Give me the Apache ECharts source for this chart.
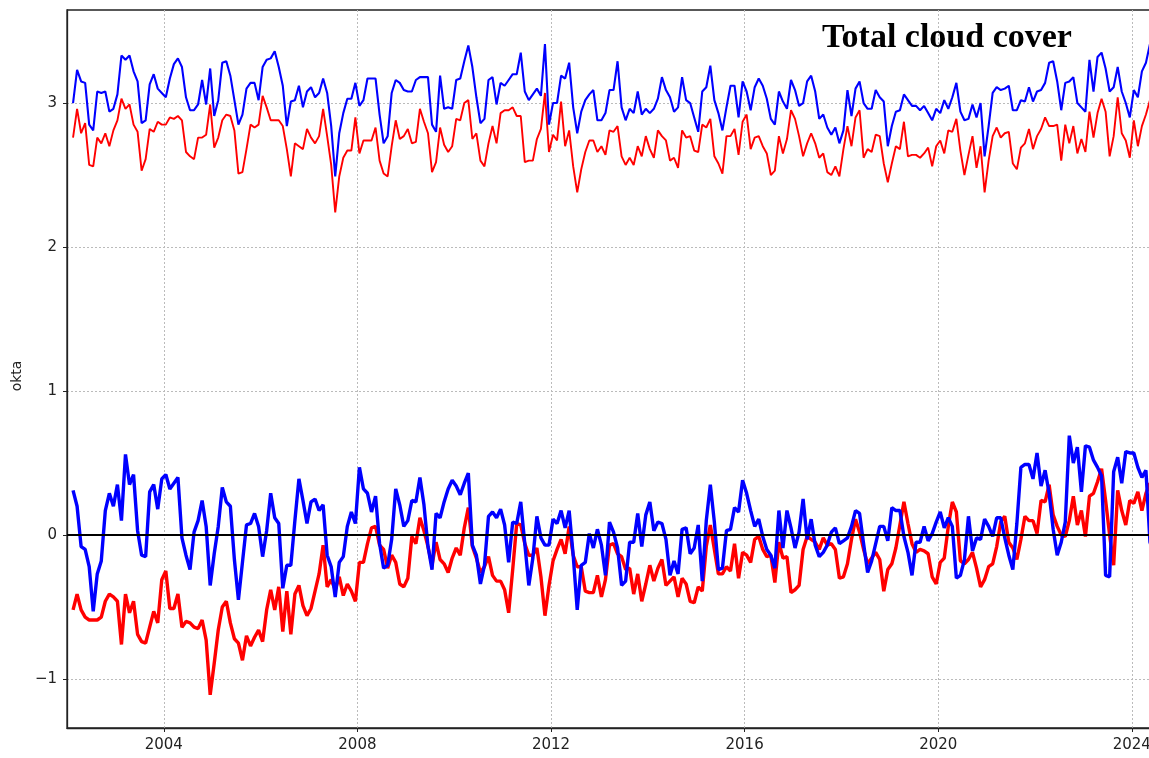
<!DOCTYPE html>
<html>
<head>
<meta charset="utf-8">
<title>Total cloud cover</title>
<script src="https://cdn.jsdelivr.net/npm/echarts@6.0.0/dist/echarts.min.js"></script>
<style>
  html, body { margin: 0; padding: 0; background: #fff; }
  #chart { width: 1149px; height: 758px; }
</style>
</head>
<body>
<div id="chart"></div>
<script>
// monthly series, first value = Feb 2002
const startYear = 2002;
const startMonth = 2;

const yearTicks = [2004, 2008, 2012, 2016, 2020, 2024];
const oktaTicks = [-1, 0, 1, 2, 3];

// total cloud cover, blue dataset (thin)
const blueTotal = [
  3.00, 3.23, 3.15, 3.14, 2.85, 2.81, 3.08, 3.07, 3.08, 2.94,
  2.96, 3.06, 3.33, 3.30, 3.33, 3.22, 3.15, 2.86, 2.88, 3.13,
  3.20, 3.10, 3.07, 3.04, 3.17, 3.27, 3.31, 3.25, 3.04, 2.95,
  2.95, 2.99, 3.16, 2.99, 3.24, 2.91, 3.02, 3.28, 3.29, 3.19,
  3.02, 2.85, 2.92, 3.10, 3.14, 3.14, 3.02, 3.25, 3.30, 3.31,
  3.36, 3.25, 3.12, 2.84, 3.01, 3.02, 3.12, 2.97, 3.08, 3.11,
  3.04, 3.07, 3.17, 3.07, 2.84, 2.49, 2.79, 2.93, 3.03, 3.03,
  3.14, 2.98, 3.02, 3.17, 3.17, 3.17, 2.92, 2.72, 2.77, 3.07,
  3.16, 3.14, 3.09, 3.08, 3.08, 3.16, 3.18, 3.18, 3.18, 2.85,
  2.80, 3.19, 2.96, 2.97, 2.96, 3.16, 3.17, 3.29, 3.40, 3.25,
  3.04, 2.86, 2.89, 3.16, 3.18, 2.99, 3.14, 3.12, 3.16, 3.20,
  3.20, 3.35, 3.08, 3.02, 3.06, 3.10, 3.05, 3.41, 2.85, 3.00,
  3.00, 3.19, 3.17, 3.28, 2.97, 2.79, 2.94, 3.02, 3.06, 3.09,
  2.88, 2.88, 2.93, 3.09, 3.09, 3.29, 2.97, 2.88, 2.96, 2.93,
  3.08, 2.92, 2.96, 2.93, 2.96, 3.03, 3.18, 3.09, 3.04, 2.94,
  2.97, 3.18, 3.02, 3.00, 2.90, 2.80, 3.08, 3.11, 3.26, 3.02,
  2.93, 2.81, 2.97, 3.12, 3.12, 2.90, 3.15, 3.08, 2.95, 3.11,
  3.17, 3.12, 3.03, 2.89, 2.85, 3.08, 3.01, 2.96, 3.16, 3.09,
  2.98, 3.00, 3.15, 3.19, 3.08, 2.89, 2.92, 2.83, 2.78, 2.83,
  2.72, 2.81, 3.09, 2.91, 3.10, 3.15, 3.00, 2.96, 2.96, 3.09,
  3.04, 3.01, 2.70, 2.84, 2.94, 2.95, 3.06, 3.02, 2.98, 2.98,
  2.95, 2.98, 2.93, 2.88, 2.96, 2.93, 3.02, 2.96, 3.04, 3.14,
  2.94, 2.88, 2.89, 2.99, 2.90, 3.00, 2.63, 2.84, 3.07, 3.11,
  3.09, 3.10, 3.12, 2.95, 2.95, 3.02, 3.01, 3.11, 3.01, 3.08,
  3.09, 3.14, 3.28, 3.29, 3.15, 2.95, 3.14, 3.15, 3.18, 3.00,
  2.97, 2.94, 3.30, 3.08, 3.32, 3.35, 3.24, 3.08, 3.11, 3.25,
  3.08, 3.00, 2.90, 3.09, 3.04, 3.22, 3.28, 3.41, 3.33, 3.20
];

// total cloud cover, red dataset (thin)
const redTotal = [
  2.76, 2.96, 2.79, 2.86, 2.57, 2.56, 2.76, 2.72, 2.79, 2.70,
  2.81, 2.88, 3.03, 2.96, 2.99, 2.85, 2.80, 2.53, 2.61, 2.82,
  2.80, 2.87, 2.85, 2.85, 2.90, 2.89, 2.91, 2.88, 2.66, 2.63,
  2.61, 2.76, 2.76, 2.78, 2.99, 2.69, 2.76, 2.88, 2.92, 2.91,
  2.81, 2.51, 2.52, 2.68, 2.85, 2.83, 2.85, 3.05, 2.97, 2.88,
  2.88, 2.88, 2.84, 2.68, 2.49, 2.72, 2.70, 2.68, 2.82, 2.76,
  2.72, 2.77, 2.96, 2.77, 2.57, 2.24, 2.49, 2.62, 2.67, 2.67,
  2.90, 2.65, 2.74, 2.74, 2.74, 2.83, 2.60, 2.51, 2.49, 2.70,
  2.88, 2.75, 2.77, 2.82, 2.72, 2.73, 2.96, 2.87, 2.79, 2.52,
  2.59, 2.83, 2.71, 2.66, 2.70, 2.89, 2.88, 3.00, 3.02, 2.75,
  2.79, 2.60, 2.56, 2.72, 2.84, 2.72, 2.93, 2.95, 2.95, 2.97,
  2.91, 2.91, 2.59, 2.60, 2.60, 2.75, 2.82, 3.07, 2.66, 2.78,
  2.74, 3.01, 2.70, 2.81, 2.56, 2.38, 2.54, 2.66, 2.74, 2.74,
  2.66, 2.70, 2.64, 2.81, 2.80, 2.84, 2.63, 2.57, 2.62, 2.57,
  2.70, 2.63, 2.77, 2.68, 2.62, 2.81, 2.77, 2.74, 2.60, 2.62,
  2.55, 2.81, 2.76, 2.77, 2.67, 2.66, 2.85, 2.83, 2.89, 2.63,
  2.58, 2.51, 2.77, 2.77, 2.82, 2.64, 2.87, 2.92, 2.68, 2.76,
  2.77, 2.70, 2.65, 2.50, 2.53, 2.77, 2.65, 2.75, 2.95, 2.89,
  2.77, 2.63, 2.72, 2.79, 2.72, 2.62, 2.65, 2.52, 2.50, 2.56,
  2.49, 2.68, 2.84, 2.70, 2.90, 2.95, 2.62, 2.68, 2.66, 2.78,
  2.77, 2.58, 2.45, 2.58, 2.70, 2.68, 2.87, 2.63, 2.64, 2.64,
  2.62, 2.65, 2.69, 2.56, 2.70, 2.74, 2.65, 2.81, 2.80, 2.89,
  2.67, 2.50, 2.64, 2.77, 2.55, 2.70, 2.38, 2.60, 2.77, 2.83,
  2.76, 2.79, 2.80, 2.58, 2.54, 2.69, 2.72, 2.82, 2.68, 2.77,
  2.82, 2.90, 2.84, 2.84, 2.85, 2.60, 2.85, 2.72, 2.84, 2.65,
  2.75, 2.66, 2.94, 2.76, 2.93, 3.03, 2.94, 2.63, 2.77, 3.04,
  2.79, 2.74, 2.62, 2.88, 2.70, 2.84, 2.92, 3.02, 2.90, 2.80
];

// anomalies, blue dataset (thick)
const blueAnom = [
  0.31, 0.20, -0.08, -0.10, -0.22, -0.53, -0.27, -0.18, 0.17, 0.29,
  0.20, 0.35, 0.10, 0.56, 0.35, 0.42, 0.03, -0.14, -0.15, 0.30,
  0.35, 0.18, 0.39, 0.42, 0.32, 0.36, 0.40, -0.02, -0.14, -0.24,
  0.02, 0.10, 0.24, 0.06, -0.35, -0.13, 0.06, 0.33, 0.23, 0.20,
  -0.17, -0.45, -0.19, 0.07, 0.08, 0.15, 0.06, -0.15, 0.03, 0.29,
  0.12, 0.08, -0.37, -0.21, -0.21, 0.10, 0.39, 0.24, 0.08, 0.23,
  0.25, 0.17, 0.21, -0.14, -0.22, -0.43, -0.19, -0.15, 0.06, 0.16,
  0.08, 0.47, 0.32, 0.29, 0.16, 0.27, -0.06, -0.23, -0.21, -0.03,
  0.32, 0.21, 0.06, 0.10, 0.24, 0.23, 0.40, 0.21, -0.08, -0.24,
  0.15, 0.12, 0.23, 0.32, 0.38, 0.34, 0.28, 0.36, 0.43, -0.07,
  -0.14, -0.34, -0.21, 0.13, 0.16, 0.12, 0.18, 0.07, -0.19, 0.09,
  0.08, 0.23, -0.06, -0.35, -0.16, 0.13, -0.02, -0.07, -0.07, 0.11,
  0.08, 0.17, 0.05, 0.17, -0.14, -0.52, -0.21, -0.19, 0.01, -0.09,
  0.04, -0.07, -0.28, 0.09, 0.02, -0.09, -0.35, -0.32, -0.05, -0.05,
  0.15, -0.08, 0.14, 0.23, 0.03, 0.09, 0.08, -0.03, -0.28, -0.18,
  -0.27, 0.04, 0.05, -0.13, -0.09, 0.07, -0.32, 0.10, 0.35, 0.09,
  -0.24, -0.23, 0.03, 0.04, 0.19, 0.16, 0.38, 0.29, 0.17, 0.06,
  0.11, -0.01, -0.10, -0.14, -0.23, 0.17, -0.09, 0.17, 0.05, -0.09,
  0.02, 0.25, -0.03, 0.11, -0.07, -0.15, -0.12, -0.07, 0.02, 0.05,
  -0.06, -0.04, -0.02, 0.06, 0.17, 0.15, -0.06, -0.26, -0.18, -0.06,
  0.06, 0.06, -0.04, 0.19, 0.17, 0.17, -0.01, -0.12, -0.28, -0.05,
  -0.05, 0.06, -0.04, 0.01, 0.09, 0.16, 0.05, 0.12, 0.06, -0.30,
  -0.28, -0.17, 0.13, -0.11, -0.02, -0.03, 0.11, 0.06, -0.01, 0.12,
  0.12, -0.02, -0.14, -0.24, 0.08, 0.47, 0.49, 0.49, 0.39, 0.57,
  0.34, 0.45, 0.29, 0.04, -0.14, -0.05, 0.09, 0.69, 0.50, 0.61,
  0.30, 0.62, 0.61, 0.52, 0.47, 0.41, -0.28, -0.29, 0.44, 0.54,
  0.36, 0.58, 0.57, 0.57, 0.47, 0.40, 0.45, -0.05, -0.12, -0.15
];

// anomalies, red dataset (thick)
const redAnom = [
  -0.52, -0.41, -0.52, -0.57, -0.59, -0.59, -0.59, -0.57, -0.46, -0.41,
  -0.43, -0.46, -0.76, -0.41, -0.54, -0.46, -0.69, -0.74, -0.75, -0.64,
  -0.53, -0.61, -0.31, -0.25, -0.51, -0.51, -0.41, -0.64, -0.60, -0.61,
  -0.64, -0.65, -0.59, -0.73, -1.11, -0.89, -0.66, -0.50, -0.46, -0.61,
  -0.72, -0.75, -0.87, -0.70, -0.77, -0.71, -0.66, -0.74, -0.52, -0.38,
  -0.52, -0.36, -0.67, -0.39, -0.69, -0.41, -0.35, -0.49, -0.56, -0.51,
  -0.39, -0.27, -0.07, -0.36, -0.31, -0.38, -0.29, -0.42, -0.34, -0.39,
  -0.46, -0.19, -0.19, -0.06, 0.05, 0.06, -0.07, -0.10, -0.23, -0.14,
  -0.19, -0.34, -0.36, -0.30, -0.01, -0.06, 0.12, 0.03, -0.08, -0.21,
  -0.05, -0.17, -0.20, -0.26, -0.16, -0.09, -0.14, 0.05, 0.19, -0.08,
  -0.16, -0.26, -0.22, -0.15, -0.28, -0.32, -0.32, -0.38, -0.54, -0.24,
  0.08, 0.07, -0.06, -0.14, -0.14, -0.09, -0.29, -0.56, -0.35, -0.18,
  -0.10, -0.03, -0.13, 0.06, -0.14, -0.22, -0.22, -0.39, -0.40, -0.40,
  -0.28, -0.43, -0.31, -0.07, -0.06, -0.13, -0.15, -0.24, -0.23, -0.41,
  -0.27, -0.46, -0.34, -0.21, -0.32, -0.23, -0.17, -0.35, -0.32, -0.29,
  -0.43, -0.30, -0.34, -0.46, -0.47, -0.36, -0.39, -0.08, 0.07, -0.10,
  -0.27, -0.27, -0.22, -0.25, -0.06, -0.30, -0.12, -0.14, -0.19, -0.03,
  -0.01, -0.10, -0.15, -0.14, -0.33, -0.05, -0.16, -0.15, -0.40, -0.38,
  -0.35, -0.10, -0.01, -0.03, -0.05, -0.10, -0.02, -0.07, -0.06, -0.10,
  -0.30, -0.29, -0.20, -0.03, 0.11, 0.02, -0.10, -0.20, -0.16, -0.12,
  -0.17, -0.39, -0.24, -0.20, -0.09, 0.07, 0.23, 0.08, -0.06, -0.12,
  -0.10, -0.11, -0.13, -0.29, -0.34, -0.19, -0.16, 0.06, 0.23, 0.16,
  -0.18, -0.20, -0.17, -0.12, -0.23, -0.36, -0.31, -0.22, -0.20, -0.08,
  0.09, 0.13, -0.05, -0.09, -0.17, -0.03, 0.13, 0.10, 0.10, 0.01,
  0.24, 0.23, 0.35, 0.14, 0.06, 0.00, -0.01, 0.10, 0.27, 0.07,
  0.17, -0.01, 0.27, 0.29, 0.37, 0.46, 0.24, 0.00, -0.21, 0.31,
  0.17, 0.07, 0.24, 0.22, 0.30, 0.17, 0.29, 0.36, 0.13, 0.00
];

// month index -> decimal year (mid-month)
function toPoints(vals) {
    return vals.map((v, i) => [startYear + (startMonth - 1 + i + 0.5) / 12, v]);
}

function line(name, vals, color, width) {
    return {
        name: name,
        type: 'line',
        data: toPoints(vals),
        showSymbol: false,
        clip: true,
        lineStyle: {color: color, width: width},
        itemStyle: {color: color}
    };
}

let labelFont = {fontFamily: 'DejaVu Sans', fontSize: 15, color: '#222'};

let option = {
    animation: false,
    backgroundColor: '#fff',
    title: {
        text: 'Total cloud cover',
        left: 822,
        top: 21,
        padding: 0,
        textStyle: {
            fontFamily: 'Liberation Serif',
            fontWeight: 'bold',
            fontSize: 34,
            color: '#000'
        }
    },
    grid: {
        left: 67,
        top: 10,
        right: -3,
        bottom: 30,
        outerBoundsMode: 'none',
        containLabel: false,
        show: true,
        borderColor: '#222',
        borderWidth: 1.3
    },
    xAxis: {
        type: 'value',
        min: 2002.0,
        max: 2024.417,
        axisLine: {show: true, onZero: false, lineStyle: {color: '#222', width: 1.3}},
        axisTick: {show: true, length: 4, customValues: yearTicks, lineStyle: {color: '#222'}},
        axisLabel: Object.assign({
            customValues: yearTicks,
            margin: 10,
            formatter: v => String(v)
        }, labelFont),
        splitLine: {show: true, lineStyle: {color: '#bbb', type: [2, 2], width: 1}}
    },
    yAxis: {
        type: 'value',
        min: -1.34,
        max: 3.646,
        name: 'okta',
        nameLocation: 'middle',
        nameGap: 43,
        nameTextStyle: {fontFamily: 'DejaVu Sans', fontSize: 14, color: '#222', padding: [0, 14, 0, 0]},
        axisLine: {show: true, lineStyle: {color: '#222', width: 1.3}},
        axisTick: {show: true, length: 4, customValues: oktaTicks, lineStyle: {color: '#222'}},
        axisLabel: Object.assign({
            customValues: oktaTicks,
            margin: 10,
            formatter: v => String(v).replace('-', '\u2212')
        }, labelFont),
        splitLine: {show: true, lineStyle: {color: '#bbb', type: [2, 2], width: 1}}
    },
    series: [
        line('red total', redTotal, '#ff0000', 1.9),
        line('blue total', blueTotal, '#0000ff', 2.1),
        line('red anomaly', redAnom, '#ff0000', 3.4),
        Object.assign(line('blue anomaly', blueAnom, '#0000ff', 3.4), {
            markLine: {
                silent: true,
                symbol: ['none', 'none'],
                label: {show: false},
                lineStyle: {color: '#000', width: 2, type: 'solid'},
                data: [{yAxis: 0}]
            }
        })
    ]
};

let myChart = echarts.init(document.getElementById('chart'));
myChart.setOption(option);
</script>
</body>
</html>
